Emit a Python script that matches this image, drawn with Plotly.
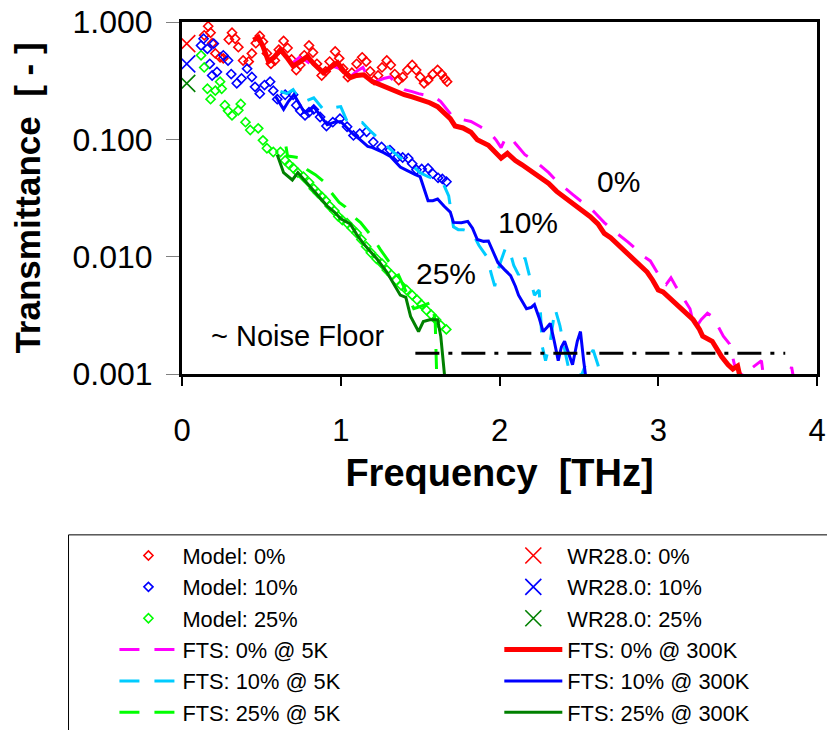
import math
import plotly.graph_objects as go

FONT = "Liberation Sans, Arial, sans-serif"

# ---------------- data ----------------
# Model curves (diamond markers)
model0_f = [0.14, 0.165, 0.18, 0.19, 0.21, 0.24, 0.26, 0.295, 0.315, 0.335, 0.355, 0.385, 0.42, 0.44, 0.465,
            0.49, 0.51, 0.535, 0.56, 0.585, 0.61, 0.64, 0.665, 0.69, 0.72, 0.745, 0.77, 0.80, 0.825, 0.85,
            0.88, 0.905, 0.93, 0.965, 0.99, 1.015, 1.045, 1.07, 1.10, 1.135, 1.16, 1.185, 1.21, 1.235, 1.26,
            1.29, 1.315, 1.34, 1.365, 1.39, 1.42, 1.45, 1.475, 1.50, 1.525, 1.55, 1.58, 1.61, 1.635, 1.655, 1.67]
model0_T = [0.77, 0.92, 0.81, 0.66, 0.54, 0.50, 0.49, 0.71, 0.81, 0.72, 0.61, 0.47, 0.46, 0.54, 0.66,
            0.76, 0.68, 0.54, 0.44, 0.47, 0.58, 0.69, 0.60, 0.48, 0.39, 0.43, 0.52, 0.63, 0.55, 0.44,
            0.35, 0.38, 0.46, 0.56, 0.49, 0.40, 0.34, 0.37, 0.44, 0.50, 0.46, 0.38, 0.32, 0.35, 0.41,
            0.47, 0.43, 0.36, 0.32, 0.34, 0.39, 0.43, 0.39, 0.34, 0.30, 0.32, 0.36, 0.39, 0.36, 0.33, 0.31]

model10_f = [0.12, 0.136, 0.16, 0.175, 0.19, 0.20, 0.22, 0.26, 0.29, 0.31, 0.345, 0.375, 0.41, 0.44, 0.46,
             0.49, 0.52, 0.555, 0.575, 0.60, 0.65, 0.70, 0.72, 0.745, 0.775, 0.80, 0.83, 0.87, 0.91, 0.95,
             0.995, 1.04, 1.08, 1.12, 1.163, 1.205, 1.257, 1.31, 1.36, 1.39, 1.425, 1.45, 1.477, 1.51,
             1.55, 1.58, 1.613, 1.64, 1.666]
model10_T = [0.63, 0.72, 0.59, 0.44, 0.35, 0.655, 0.375, 0.52, 0.47, 0.36, 0.30, 0.33, 0.40, 0.34, 0.28,
             0.245, 0.29, 0.31, 0.26, 0.22, 0.24, 0.24, 0.195, 0.175, 0.16, 0.17, 0.18, 0.155, 0.13, 0.14,
             0.15, 0.128, 0.108, 0.112, 0.116, 0.095, 0.086, 0.081, 0.071, 0.070, 0.069, 0.062, 0.055, 0.056,
             0.0565, 0.051, 0.047, 0.046, 0.0435]

model25_f = [0.12, 0.14, 0.16, 0.18, 0.21, 0.24, 0.25, 0.27, 0.29, 0.315, 0.355, 0.37, 0.40, 0.43, 0.48,
             0.51, 0.535, 0.575, 0.62, 0.65, 0.675, 0.70, 0.73, 0.765, 0.80, 0.83, 0.855, 0.88, 0.905, 0.93,
             0.96, 0.985, 1.01, 1.04, 1.07, 1.10, 1.13, 1.16, 1.19, 1.225, 1.26, 1.29, 1.32, 1.35, 1.38,
             1.415, 1.45, 1.48, 1.51, 1.54, 1.57, 1.60, 1.63, 1.665]
model25_T = [0.52, 0.41, 0.27, 0.22, 0.26, 0.31, 0.27, 0.195, 0.175, 0.16, 0.177, 0.20, 0.14, 0.12, 0.124,
             0.098, 0.084, 0.078, 0.078, 0.066, 0.061, 0.057, 0.052, 0.048, 0.043, 0.038, 0.035, 0.0325, 0.030, 0.027,
             0.0245, 0.022, 0.0205, 0.0193, 0.0175, 0.0159, 0.014, 0.0122, 0.0108, 0.0096, 0.0087, 0.0077, 0.0070, 0.0063, 0.0057,
             0.0052, 0.0047, 0.0043, 0.0039, 0.0035, 0.0032, 0.0029, 0.0026, 0.0024]

# WR28.0 single points (0 %, 10 %, 25 %)
wr_f = [0.03, 0.03, 0.03]
wr_T = [0.655, 0.44, 0.30]

# FTS @ 300K
fts300_0_f = [0.45, 0.48, 0.51, 0.545, 0.58, 0.62, 0.66, 0.70, 0.745, 0.79, 0.83, 0.89, 0.935, 0.98, 1.02,
              1.06, 1.10, 1.145, 1.20, 1.25, 1.29, 1.35, 1.40, 1.45, 1.50, 1.56, 1.61, 1.65, 1.69, 1.72,
              1.77, 1.82, 1.86, 1.93, 2.01, 2.05, 2.10, 2.14, 2.20, 2.255, 2.31, 2.36, 2.41, 2.46, 2.51,
              2.57, 2.62, 2.66, 2.70, 2.78, 2.83, 2.88, 2.93, 2.965, 3.00, 3.03, 3.09, 3.15, 3.22, 3.26,
              3.28, 3.34, 3.37, 3.40, 3.44, 3.47, 3.50, 3.52]
fts300_0_T = [0.70, 0.74, 0.62, 0.46, 0.50, 0.58, 0.50, 0.42, 0.46, 0.51, 0.44, 0.37, 0.41, 0.45, 0.38,
              0.335, 0.35, 0.355, 0.31, 0.29, 0.275, 0.26, 0.24, 0.23, 0.22, 0.205, 0.19, 0.17, 0.15, 0.13,
              0.125, 0.115, 0.099, 0.089, 0.069, 0.076, 0.066, 0.061, 0.054, 0.048, 0.042, 0.036, 0.032, 0.029, 0.025,
              0.022, 0.019, 0.0158, 0.0145, 0.0116, 0.0100, 0.0086, 0.0074, 0.0063, 0.0052, 0.0050, 0.0042, 0.0036, 0.0029, 0.0024,
              0.0021, 0.0019, 0.0016, 0.0014, 0.0012, 0.0011, 0.00117, 0.00088]

fts300_10_f = [0.59, 0.64, 0.67, 0.705, 0.74, 0.77, 0.80, 0.83, 0.87, 0.915, 0.96, 1.00, 1.04, 1.08, 1.12,
               1.17, 1.20, 1.23, 1.27, 1.31, 1.345, 1.375, 1.41, 1.44, 1.47, 1.50, 1.53, 1.55, 1.58, 1.61,
               1.65, 1.69, 1.71, 1.76, 1.80, 1.83, 1.86, 1.90, 1.93, 1.96, 1.99, 2.03, 2.07, 2.10, 2.12,
               2.15, 2.17, 2.20, 2.22, 2.25, 2.275, 2.30, 2.32, 2.345, 2.37, 2.39, 2.41, 2.435, 2.46, 2.49,
               2.51, 2.53, 2.55]
fts300_10_T = [0.232, 0.18, 0.21, 0.24, 0.20, 0.17, 0.175, 0.19, 0.16, 0.133, 0.14, 0.142, 0.125, 0.11, 0.10,
               0.087, 0.085, 0.082, 0.077, 0.072, 0.064, 0.058, 0.055, 0.052, 0.050, 0.048, 0.037, 0.030, 0.030, 0.031,
               0.027, 0.024, 0.0196, 0.0195, 0.020, 0.0175, 0.014, 0.0135, 0.0136, 0.011, 0.0089, 0.0078, 0.0069, 0.0056, 0.0047,
               0.0040, 0.0036, 0.0037, 0.0039, 0.0030, 0.0023, 0.0025, 0.0027, 0.0019, 0.0013, 0.0017, 0.0019, 0.0015, 0.0012, 0.0019,
               0.0023, 0.0013, 0.0008]

fts300_25_f = [0.60, 0.64, 0.695, 0.73, 0.77, 0.81, 0.86, 0.915, 0.96, 1.00, 1.06, 1.10, 1.145, 1.19, 1.23,
               1.29, 1.33, 1.375, 1.41, 1.44, 1.49, 1.52, 1.56, 1.61, 1.63, 1.645, 1.66]
fts300_25_T = [0.074, 0.052, 0.045, 0.052, 0.045, 0.039, 0.033, 0.027, 0.024, 0.021, 0.019, 0.0155, 0.0128, 0.011, 0.0095,
               0.0074, 0.0060, 0.0047, 0.0045, 0.0031, 0.0023, 0.0028, 0.0029, 0.0029, 0.0021, 0.0013, 0.0008]

# FTS @ 5K
fts5_0_f = [0.70, 0.74, 0.78, 0.85, 0.90, 0.95, 1.00, 1.06, 1.10, 1.14, 1.18, 1.22, 1.27, 1.31, 1.36,
            1.40, 1.45, 1.49, 1.55, 1.60, 1.63, 1.67, 1.71, 1.76, 1.82, 1.88, 1.94, 1.98, 2.01, 2.04,
            2.07, 2.10, 2.16, 2.22, 2.27, 2.31, 2.36, 2.41, 2.46, 2.51, 2.56, 2.61, 2.66, 2.71, 2.76,
            2.81, 2.86, 2.91, 2.95, 2.99, 3.02, 3.05, 3.08, 3.11, 3.16, 3.20, 3.23, 3.27, 3.31, 3.34,
            3.38, 3.41, 3.45, 3.48, 3.52, 3.55, 3.58, 3.62, 3.65, 3.665, 3.75, 3.84, 3.86]
fts5_0_T = [0.45, 0.50, 0.47, 0.40, 0.37, 0.42, 0.40, 0.34, 0.38, 0.41, 0.32, 0.31, 0.33, 0.34, 0.29,
            0.265, 0.255, 0.245, 0.235, 0.225, 0.21, 0.18, 0.153, 0.148, 0.142, 0.128, 0.114, 0.098, 0.085, 0.104,
            0.104, 0.092, 0.074, 0.066, 0.058, 0.052, 0.044, 0.039, 0.034, 0.030, 0.027, 0.023, 0.0195, 0.017, 0.0151,
            0.0133, 0.0116, 0.0100, 0.0092, 0.0075, 0.0064, 0.0058, 0.0066, 0.0056, 0.0044, 0.0036, 0.0024, 0.0029, 0.0033, 0.0031,
            0.0025, 0.0021, 0.0018, 0.0012, 0.0010, 0.00095, 0.0011, 0.0012, 0.0013, 0.0009, 0.0005, 0.00115, 0.0008]

fts5_10_f = [0.62, 0.66, 0.70, 0.75, 0.79, 0.83, 0.89, 0.94, 1.00, 1.04, 1.09, 1.135, 1.18, 1.23, 1.27,
             1.31, 1.35, 1.395, 1.45, 1.50, 1.55, 1.61, 1.645, 1.68, 1.71, 1.74, 1.77, 1.80, 1.83, 1.87,
             1.92, 1.95, 1.97, 2.00, 2.04, 2.07, 2.09, 2.12, 2.14, 2.16, 2.19, 2.22, 2.25, 2.27, 2.29,
             2.32, 2.35, 2.38, 2.42, 2.45, 2.52, 2.56, 2.59, 2.62, 2.64]
fts5_10_T = [0.256, 0.245, 0.265, 0.21, 0.215, 0.226, 0.18, 0.185, 0.19, 0.142, 0.14, 0.139, 0.12, 0.104, 0.092,
             0.082, 0.074, 0.067, 0.060, 0.052, 0.048, 0.045, 0.042, 0.033, 0.018, 0.017, 0.017, 0.0165, 0.016, 0.0125,
             0.010, 0.007, 0.0056, 0.0085, 0.0121, 0.0105, 0.0084, 0.0070, 0.0080, 0.0098, 0.0068, 0.0047, 0.0052, 0.0017, 0.0013,
             0.0019, 0.0036, 0.0026, 0.0014, 0.0009, 0.0010, 0.0014, 0.0016, 0.0012, 0.0009]

fts5_25_f = [0.655, 0.665, 0.70, 0.73, 0.76, 0.79, 0.84, 0.89, 0.92, 0.955, 0.99, 1.03, 1.08, 1.125, 1.16,
             1.20, 1.25, 1.30, 1.355, 1.40, 1.46, 1.51, 1.575, 1.595, 1.60, 1.605]
fts5_25_T = [0.087, 0.072, 0.071, 0.070, 0.060, 0.055, 0.050, 0.044, 0.038, 0.033, 0.029, 0.0265, 0.022, 0.0195, 0.017,
             0.0146, 0.0115, 0.0092, 0.0074, 0.0055, 0.0036, 0.0038, 0.0041, 0.0028, 0.0015, 0.0009]

# noise floor
noise_f = [1.47, 3.80]
noise_T = [0.0015, 0.0015]

# tick labels
x_ticks = [0, 1, 2, 3, 4]
y_tickvals = [0.001, 0.01, 0.1, 1.0]
y_ticktext = ["0.001", "0.010", "0.100", "1.000"]

# in-plot labels
curve_labels = ["0%", "10%", "25%"]
label_f = [2.749, 2.177, 1.661]
label_T = [0.0433, 0.0195, 0.00713]
noise_label = "~ Noise Floor"
noise_label_f = 0.728
noise_label_T = 0.00211

# ---------------- figure ----------------
fig = go.Figure()

RED, BLUE, GREEN = "#FF0000", "#0000FF", "#00FF00"
MAGENTA, CYAN, DKGREEN = "#FF00FF", "#00CCFF", "#008000"
DASH = "20px,15px"


def model(f, T, color, name):
    fig.add_trace(go.Scatter(x=f, y=T, mode="markers", name=name, legend="legend",
                             marker=dict(symbol="diamond-open", size=7, color=color,
                                         line=dict(color=color, width=1.6))))


def wr(i, color, name):
    fig.add_trace(go.Scatter(x=[wr_f[i]], y=[wr_T[i]], mode="markers", name=name, legend="legend2",
                             marker=dict(symbol="x-thin-open", size=17, color=color,
                                         line=dict(color=color, width=1.6))))


def line(f, T, color, width, dash, name, leg):
    fig.add_trace(go.Scatter(x=f, y=T, mode="lines", name=name, legend=leg,
                             line=dict(color=color, width=width, dash=dash)))


model(model0_f, model0_T, RED, "Model: 0%")
model(model10_f, model10_T, BLUE, "Model: 10%")
model(model25_f, model25_T, GREEN, "Model: 25%")
line(fts5_0_f, fts5_0_T, MAGENTA, 3, DASH, "FTS: 0% @ 5K", "legend")
line(fts5_10_f, fts5_10_T, CYAN, 3, DASH, "FTS: 10% @ 5K", "legend")
line(fts5_25_f, fts5_25_T, GREEN, 3, DASH, "FTS: 25% @ 5K", "legend")
wr(0, RED, "WR28.0: 0%")
wr(1, BLUE, "WR28.0: 10%")
wr(2, DKGREEN, "WR28.0: 25%")
line(fts300_0_f, fts300_0_T, RED, 5, "solid", "FTS: 0% @ 300K", "legend2")
line(fts300_10_f, fts300_10_T, BLUE, 3, "solid", "FTS: 10% @ 300K", "legend2")
line(fts300_25_f, fts300_25_T, DKGREEN, 3, "solid", "FTS: 25% @ 300K", "legend2")

fig.add_trace(go.Scatter(x=noise_f, y=noise_T, mode="lines", showlegend=False,
                         line=dict(color="black", width=3, dash="24px,9px,4px,9px")))

for txt, f, T in zip(curve_labels, label_f, label_T):
    fig.add_annotation(x=f, y=math.log10(T), text=txt, showarrow=False,
                       font=dict(family=FONT, size=30, color="black"))
fig.add_annotation(x=noise_label_f, y=math.log10(noise_label_T), text=noise_label, showarrow=False,
                   font=dict(family=FONT, size=29, color="black"))

# legend frame (extends past the page edge like the reference)
fig.add_shape(type="rect", xref="paper", yref="paper",
              x0=-0.1787, x1=1.05, y0=-1.08, y1=-0.457,
              line=dict(color="black", width=1), fillcolor="rgba(0,0,0,0)")

LEGFONT = dict(family=FONT, size=21.8, color="black")
fig.update_layout(
    width=827, height=730,
    margin=dict(l=182, r=10, t=22, b=356, autoexpand=False),
    paper_bgcolor="white", plot_bgcolor="white",
    font=dict(family=FONT, color="black"),
    showlegend=True,
    legend=dict(orientation="v", x=-0.1064, xanchor="left", y=-0.457, yanchor="top",
                itemwidth=58, traceorder="normal", tracegroupgap=0,
                font=LEGFONT, bgcolor="rgba(0,0,0,0)", borderwidth=0),
    legend2=dict(orientation="v", x=0.4997, xanchor="left", y=-0.457, yanchor="top",
                 itemwidth=58, traceorder="normal", tracegroupgap=0,
                 font=LEGFONT, bgcolor="rgba(0,0,0,0)", borderwidth=0),
    xaxis=dict(range=[0, 4], tickvals=x_ticks, showgrid=False, zeroline=False, automargin=False,
               showline=True, linecolor="black", linewidth=3, mirror=True,
               ticks="outside", ticklen=9, tickwidth=1.5, tickcolor="black",
               ticklabelstandoff=18, ticklabeloverflow="allow",
               tickfont=dict(family=FONT, size=31, color="black"),
               title=dict(text="Frequency\u00a0\u00a0[THz]", standoff=13,
                          font=dict(family=FONT, size=38, color="black", weight="bold"))),
    yaxis=dict(type="log", range=[-3, 0], tickvals=y_tickvals, ticktext=y_ticktext,
               showgrid=False, zeroline=False, automargin=False,
               showline=True, linecolor="black", linewidth=3, mirror=True,
               ticks="outside", ticklen=13, tickwidth=1.2, tickcolor="#808080",
               ticklabelstandoff=7, ticklabeloverflow="allow",
               tickfont=dict(family=FONT, size=32, color="black"),
               title=dict(text="Transmittance\u00a0\u00a0[\u00a0-\u00a0]", standoff=22,
                          font=dict(family=FONT, size=35, color="black", weight="bold"))),
)

# remove the default page margin so the 827x730 figure fills the window exactly
fig.write_html("out.html",
               config={"displayModeBar": False},
               post_script="document.body.style.margin='0';"
                           "document.documentElement.style.overflow='hidden';"
                           "document.body.style.overflow='hidden';")
